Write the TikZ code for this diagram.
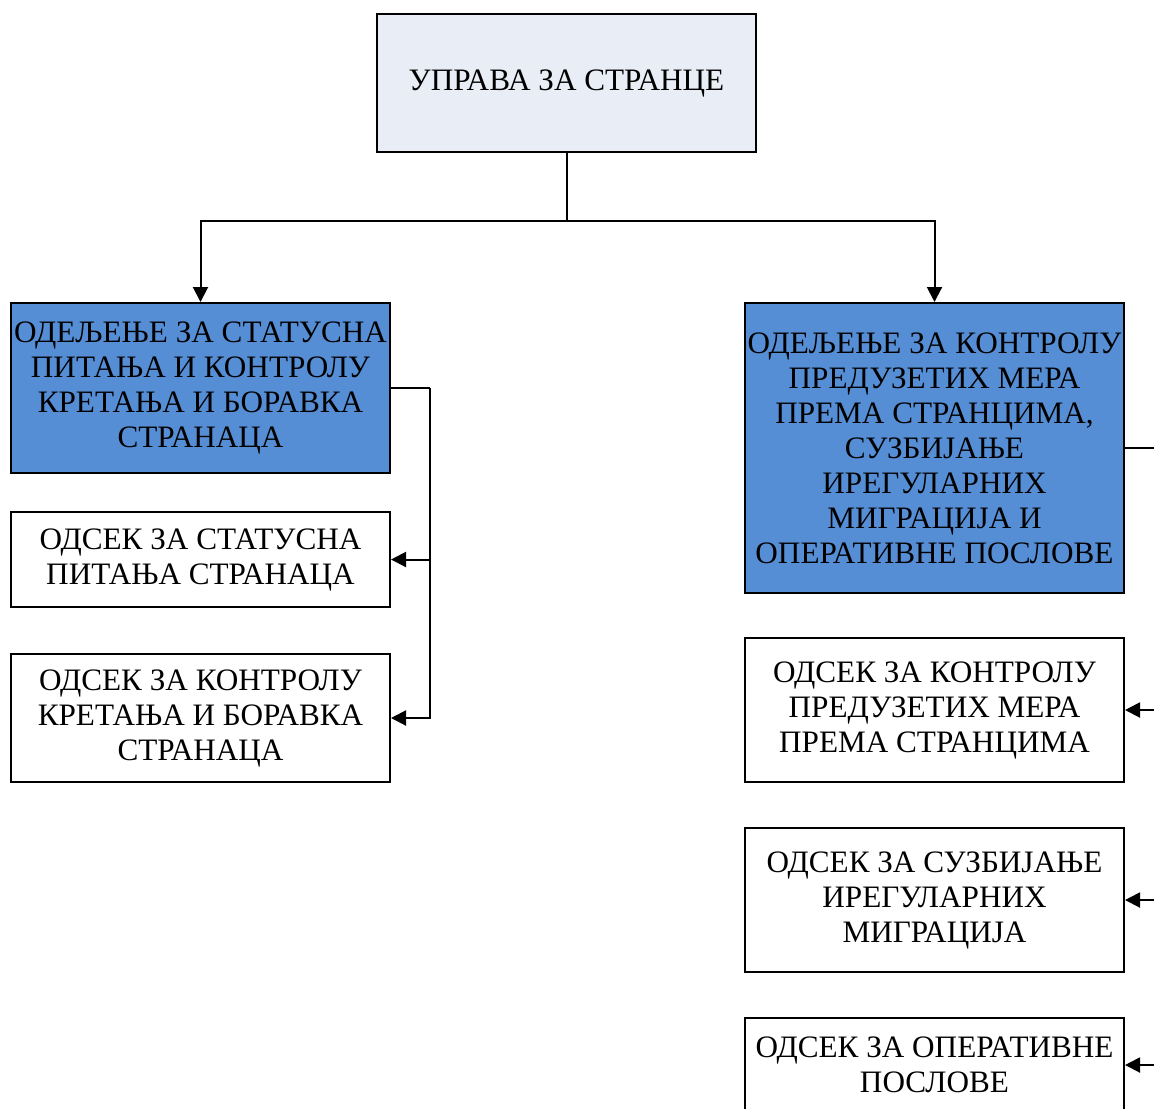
\documentclass[tikz,border=0pt]{standalone}
\usepackage{fontspec}
\setmainfont{Liberation Serif}
\usetikzlibrary{arrows.meta}
\definecolor{topfill}{RGB}{233,238,246}
\definecolor{deptfill}{RGB}{85,142,213}
\begin{document}
\begin{tikzpicture}[x=0.5pt,y=-0.5pt,
  box/.style={draw,line width=1pt,minimum width=189.5pt,inner sep=0pt,align=center,
    font=\fontsize{15.6}{17.5}\selectfont},
  dept/.style={box,fill=deptfill},
  conn/.style={line width=1pt},
  arr/.style={conn,-{Triangle[length=7.5pt,width=7.5pt]}}]
\useasboundingbox (0,0) rectangle (1154,1108);
\clip (0,0) rectangle (1154,1108);
\node[box,fill=topfill,minimum height=69pt] (U) at (566.5,83) {УПРАВА ЗА СТРАНЦЕ};
\node[dept,minimum height=85pt] (L) at (200.5,388) {ОДЕЉЕЊЕ ЗА СТАТУСНА\\ПИТАЊА И КОНТРОЛУ\\КРЕТАЊА И БОРАВКА\\СТРАНАЦА};
\node[box,minimum height=47.5pt] (L1) at (200.5,559.5) {ОДСЕК ЗА СТАТУСНА\\ПИТАЊА СТРАНАЦА};
\node[box,minimum height=64pt] (L2) at (200.5,718) {ОДСЕК ЗА КОНТРОЛУ\\КРЕТАЊА И БОРАВКА\\СТРАНАЦА};
\node[dept,minimum height=145pt] (R) at (934.5,448) {ОДЕЉЕЊЕ ЗА КОНТРОЛУ\\ПРЕДУЗЕТИХ МЕРА\\ПРЕМА СТРАНЦИМА,\\СУЗБИЈАЊЕ\\ИРЕГУЛАРНИХ\\МИГРАЦИЈА И\\ОПЕРАТИВНЕ ПОСЛОВЕ};
\node[box,minimum height=72pt] (R1) at (934.5,710) {ОДСЕК ЗА КОНТРОЛУ\\ПРЕДУЗЕТИХ МЕРА\\ПРЕМА СТРАНЦИМА};
\node[box,minimum height=72pt] (R2) at (934.5,900) {ОДСЕК ЗА СУЗБИЈАЊЕ\\ИРЕГУЛАРНИХ\\МИГРАЦИЈА};
\node[box,minimum height=47pt] (R3) at (934.5,1065) {ОДСЕК ЗА ОПЕРАТИВНЕ\\ПОСЛОВЕ};
% top level
\draw[arr] (U.south) -- ++(0,68) -| (L.north);
\draw[arr] (U.south) -- ++(0,68) -| (R.north);
% left department
\draw[conn] (L.east) -- ++(39,0) coordinate (lb);
\draw[arr] (lb) |- (L1.east);
\draw[arr] (lb) |- (L2.east);
% right department
\draw[conn] (R.east) -- ++(40,0) coordinate (rb);
\draw[arr] (rb) |- (R1.east);
\draw[arr] (rb) |- (R2.east);
\draw[arr] (rb) |- (R3.east);
\end{tikzpicture}
\end{document}
